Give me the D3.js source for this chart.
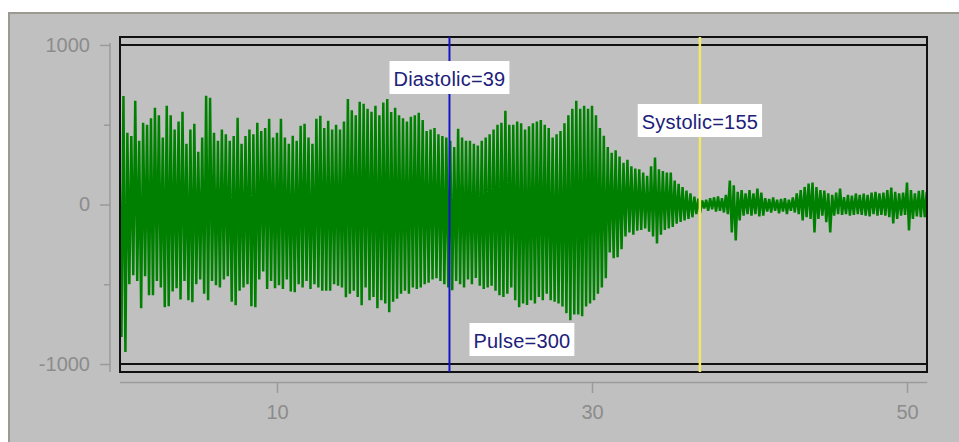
<!DOCTYPE html>
<html>
<head>
<script src="https://cdn.jsdelivr.net/npm/d3@7"></script>
  <meta charset="utf-8">
  <title>Oscillometric signal</title>
  <style>
  body { margin: 0; background: white; }
  text { font-family: "Liberation Sans", Arial, sans-serif; }
  .axis text { fill: #8c8c8c; font-size: 20px; }
  .axis line, .axis path { stroke: #9a9a9a; }
  .marker-label text { fill: #20207a; font-size: 20px; letter-spacing: 0.2px; }
  </style>
</head>
<body>
<script type="text/javascript">

// peaks of the pressure oscillation, one pair every 0.25 s
var peakHigh = [
  300, 680, 450, 430,   650, 400, 512, 500,   540, 606, 560, 420,   619, 560, 470, 520,
  581, 380, 470, 506,   330, 420, 681, 669,   450, 400, 470, 440,   400, 430, 544, 380,
  430, 470, 440, 512,   460, 480, 537, 420,   450, 537, 420, 380,   431, 400, 494, 506,
  420, 380, 537, 556,   480, 525, 470, 500,   470, 520, 662, 590,   560, 644, 631, 600,
  581, 619, 560, 640,   662, 580, 606, 560,   540, 520, 550, 560,   575, 530, 460, 470,
  480, 440, 430, 420,   400, 360, 475, 420,   400, 400, 380, 370,   400, 420, 440, 470,
  500, 512, 587, 500,   500, 520, 510, 470,   490, 510, 520, 530,   500, 480, 420, 440,
  460, 510, 560, 600,   650, 600, 619, 600,   619, 560, 480, 431,   360, 325, 340, 300,
  262, 280, 240, 225,   220, 200, 180, 240,   294, 220, 210, 200,   200, 150, 130, 110,
  87, 70, 50, 37,       25, 30, 40, 45,       50, 40, 60, 150,      120, 80, 90, 70,
  90, 70, 100, 75,      40, 35, 44, 30,       35, 40, 30, 45,       69, 90, 110, 131,
  137, 110, 90, 87,     70, 60, 75, 100,      46, 60, 55, 69,       60, 69, 60, 75,
  80, 70, 75, 90,       106, 80, 70, 75,      137, 90, 70, 85,      90, 80
];

var peakLow = [
  -830, -925, -500, -444,   -480, -650, -450, -569,   -569, -480, -520, -644,   -637, -545, -525, -595,
  -480, -600, -612, -500,   -470, -560, -600, -480,   -506, -520, -470, -450,   -610, -631, -540, -520,
  -500, -637, -644, -470,   -420, -530, -480, -525,   -506, -530, -470, -545,   -550, -500, -520, -480,
  -530, -500, -520, -540,   -540, -540, -500, -510,   -520, -581, -560, -540,   -580, -631, -520, -600,
  -580, -650, -600, -620,   -675, -610, -590, -560,   -540, -560, -520, -530,   -520, -500, -490, -470,
  -462, -480, -500, -520,   -537, -480, -500, -520,   -470, -500, -460, -510,   -530, -520, -510, -540,
  -569, -580, -560, -520,   -600, -644, -620, -630,   -600, -620, -580, -600,   -560, -600, -610, -620,
  -640, -681, -725, -690,   -690, -700, -640, -620,   -600, -560, -520, -462,   -300, -337, -330, -280,
  -200, -175, -190, -165,   -160, -150, -170, -200,   -244, -190, -160, -150,   -140, -120, -110, -100,
  -90, -80, -60, -50,       -25, -40, -30, -45,       -40, -50, -60, -175,      -225, -100, -70, -60,
  -70, -60, -75, -70,       -45, -50, -40, -55,       -44, -60, -40, -50,       -60, -100, -80, -90,
  -175, -90, -70, -110,     -175, -70, -60, -65,      -60, -70, -65, -60,       -65, -70, -75, -60,
  -70, -65, -70, -80,       -119, -90, -70, -65,      -162, -90, -75, -80,      -80, -70
];

var sampleStep = 0.25;
var xTicks = [10, 30, 50];
var yTicks = [-1000, -500, 0, 500, 1000];
var yLabelled = [-1000, 0, 1000];

var markers = [
  {name: "Diastolic", t: 20.95, color: "#1414c8", label: "Diastolic=39"},
  {name: "Systolic", t: 36.85, color: "#f0e866", label: "Systolic=155"}
];
var pulseText = "Pulse=300";
var pulseAt = 25.55;

var width = 959,
    height = 442;

var box = {left: 120, right: 927, top: 37, bottom: 372};

var x = d3.scaleLinear().domain([0, 51.25]).range([119.5, 926.7]);
var y = d3.scaleLinear().domain([-1050, 1050]).range([box.bottom, box.top]);

var svg = d3.select("body").append("svg")
          .attr("width", width)
          .attr("height", height);

// window panel
svg.append("rect")
    .attr("x", 9).attr("y", 13)
    .attr("width", width).attr("height", height)
    .style("fill", "#c0c0c0")
    .style("stroke", "#9c9a90")
    .style("stroke-width", 2);

// trace: alternate high and low peak of each beat
var points = [];
peakHigh.forEach(function(v, i) {
  points.push({t: i * sampleStep, v: v});
  points.push({t: i * sampleStep + sampleStep / 2, v: peakLow[i]});
});

svg.append("clipPath").attr("id", "plot-clip")
  .append("rect")
    .attr("x", box.left + 1).attr("y", box.top)
    .attr("width", box.right - box.left - 2).attr("height", box.bottom - box.top);

var line = d3.line()
    .x(function(d) { return x(d.t); })
    .y(function(d) { return y(d.v); });

svg.append("path")
    .datum(points)
    .attr("clip-path", "url(#plot-clip)")
    .attr("d", line)
    .style("fill", "none")
    .style("stroke", "#008000")
    .style("stroke-width", 2.5)
    .style("stroke-linejoin", "bevel");

// plot frame and +/-1000 guide lines
svg.append("rect")
    .attr("x", box.left).attr("y", box.top)
    .attr("width", box.right - box.left).attr("height", box.bottom - box.top)
    .style("fill", "none")
    .style("stroke", "#111")
    .style("stroke-width", 2);

svg.selectAll("line.guide")
    .data([1000, -1000]).enter().append("line")
    .attr("class", "guide")
    .attr("x1", box.left).attr("x2", box.right)
    .attr("y1", function(d) { return y(d); })
    .attr("y2", function(d) { return y(d); })
    .style("stroke", "#111")
    .style("stroke-width", 2);

// y axis
var yAxis = svg.append("g")
    .attr("class", "axis")
    .attr("transform", "translate(110,0)")
    .call(d3.axisLeft(y)
      .tickValues(yTicks)
      .tickSize(10)
      .tickPadding(10)
      .tickFormat(function(d) { return yLabelled.indexOf(d) >= 0 ? d : ""; }));
yAxis.select(".domain").remove();
yAxis.selectAll(".tick line")
    .attr("x2", function(d) { return yLabelled.indexOf(d) >= 0 ? -10 : -6; })
    .style("stroke-width", 1.5);
yAxis.append("line")
    .attr("y1", y(1000) - 2).attr("y2", box.bottom)
    .style("stroke-width", 1.5);

// x axis
var xAxis = svg.append("g")
    .attr("class", "axis")
    .attr("transform", "translate(0,382)")
    .call(d3.axisBottom(x)
      .tickValues(xTicks)
      .tickSize(11)
      .tickSizeOuter(0)
      .tickPadding(12));
xAxis.select(".domain").style("stroke-width", 1.5);
xAxis.selectAll(".tick line").style("stroke-width", 1.5);

// diastolic / systolic markers
svg.selectAll("line.marker")
    .data(markers).enter().append("line")
    .attr("class", "marker")
    .attr("x1", function(d) { return x(d.t); })
    .attr("x2", function(d) { return x(d.t); })
    .attr("y1", box.top).attr("y2", box.bottom)
    .style("stroke", function(d) { return d.color; })
    .style("stroke-width", function(d) { return d.name == "Systolic" ? 2.5 : 2; });

var labelData = [
  {text: markers[0].label, cx: x(markers[0].t), top: 61},
  {text: markers[1].label, cx: x(markers[1].t), top: 104},
  {text: pulseText, cx: x(pulseAt), top: 323}
];

var labels = svg.selectAll("g.marker-label")
    .data(labelData).enter().append("g")
    .attr("class", "marker-label");

var boxes = labels.append("rect")
    .attr("y", function(d) { return d.top; })
    .attr("height", 33)
    .style("fill", "white");

labels.append("text")
    .attr("x", function(d) { return d.cx; })
    .attr("y", function(d) { return d.top + 25; })
    .attr("text-anchor", "middle")
    .text(function(d) { return d.text; })
    .each(function(d) { d.w = this.getComputedTextLength() + 8; });

boxes.attr("x", function(d) { return d.cx - d.w / 2; })
    .attr("width", function(d) { return d.w; });

</script>
</body>
</html>
